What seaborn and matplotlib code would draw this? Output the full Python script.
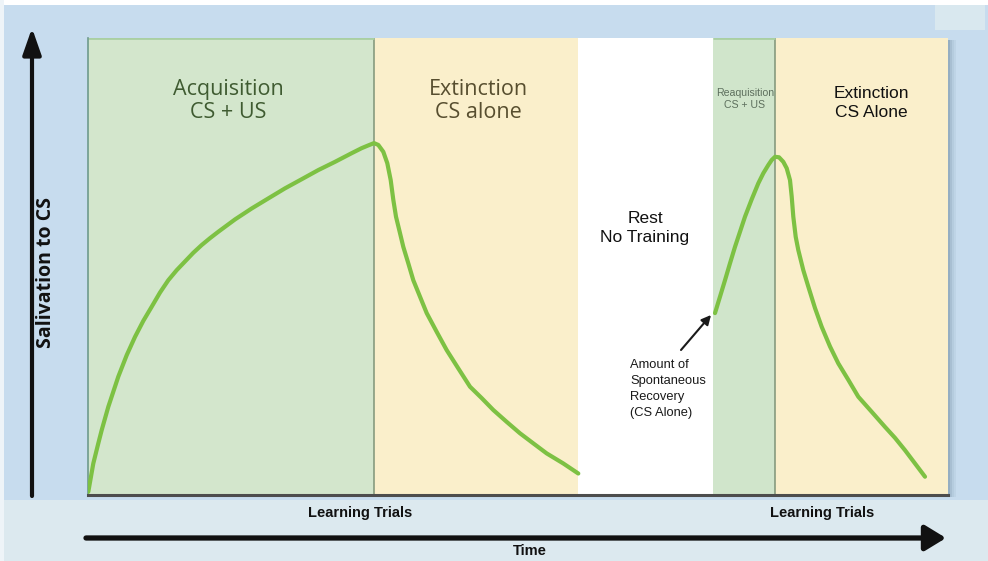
import numpy as np
import pandas as pd
import matplotlib
matplotlib.use("Agg")
import matplotlib.pyplot as plt
from matplotlib.patches import Rectangle, FancyArrowPatch
import seaborn as sns

# ---------------- data ----------------
# phase boundaries along the time axis (trial units)
phase_edges = [0, 286, 490, 625, 687, 860]
phase_names = ["Acquisition", "Extinction", "Rest", "Reacquisition", "Extinction 2"]

acq_x = [0.3, 5.3, 10.3, 13.7, 20.3, 30.3, 38.7, 47, 55.3, 63.7, 72, 80.3, 88.7, 97,
         105.3, 113.7, 122, 130.3, 147, 163.7, 180.3, 197, 213.7, 230.3, 247, 263.7,
         273.7, 280.3, 286]
acq_y = [0.7, 6.9, 11.3, 14.2, 19.3, 25.9, 30.6, 34.6, 38.1, 41.2, 44.3, 47.0, 49.2, 51.1,
         53.0, 54.7, 56.2, 57.6, 60.3, 62.7, 64.9, 67.1, 69.1, 71.1, 72.9, 74.8,
         75.9, 76.5, 77.0]

ext1_x = [286, 290.3, 295.3, 299.3, 302.7, 305.3, 308, 312, 315.3, 320.3, 325.3, 332,
          338.7, 348.7, 358.7, 370.3, 382, 393.7, 405.3, 418.7, 432, 445.3, 458.7,
          475.3, 490.3]
ext1_y = [77.0, 76.6, 75.1, 72.6, 68.9, 64.6, 60.9, 57.3, 54.3, 50.7, 47.0, 43.4,
          39.8, 35.7, 31.7, 27.7, 23.7, 21.2, 18.6, 16.0, 13.5, 11.3, 9.1,
          6.9, 4.7]

reacq_x = [627, 632, 637, 642, 647, 652, 657, 663.7, 670.3, 675.3, 680.3, 683.7, 687]
reacq_y = [39.8, 43.4, 47.0, 50.7, 54.3, 57.6, 60.9, 64.7, 68.2, 70.4, 72.2, 73.3, 74.0]

ext2_x = [687, 691, 695.3, 698.7, 702, 703.7, 705.3, 707.7, 710.3, 715.3, 720.3, 727,
          733.7, 742, 750.3, 760.3, 770.3, 783.7, 797, 807, 817, 827, 837]
ext2_y = [74.0, 73.9, 72.9, 71.5, 68.9, 65.3, 60.9, 56.5, 53.6, 49.2, 45.6, 40.9,
          36.8, 32.5, 28.8, 25.2, 21.5, 18.2, 14.9, 12.5, 9.8, 6.9, 4.0]

# ---------------- figure ----------------
W, H = 988, 561
fig = plt.figure(figsize=(W / 100, H / 100), dpi=100)
fig.patch.set_facecolor("#c7dcee")

def fx(px):
    return px / W

def fy(py):
    return 1 - py / H

# background bands
fig.add_artist(Rectangle((0, 0), 1, fy(500), transform=fig.transFigure,
                         facecolor="#dce9ef", edgecolor="none", zorder=0))
fig.add_artist(Rectangle((0, fy(5)), 1, 5 / H, transform=fig.transFigure,
                         facecolor="white", edgecolor="none", zorder=0))
fig.add_artist(Rectangle((0, 0), 4 / W, 1, transform=fig.transFigure,
                         facecolor="#eef4f8", edgecolor="none", zorder=0))
fig.add_artist(Rectangle((fx(935), fy(30)), 50 / W, 25 / H, transform=fig.transFigure,
                         facecolor="#d9e8ef", edgecolor="none", zorder=0))
# shadow at right edge of panel
for i, a in enumerate([0.35, 0.22, 0.12, 0.06]):
    fig.add_artist(Rectangle((fx(948 + i * 2), fy(497)), 2 / W, (497 - 40) / H,
                             transform=fig.transFigure, facecolor="#3a5a70",
                             alpha=a, edgecolor="none", zorder=0))

ax = fig.add_axes([fx(88), fy(495), 860 / W, 457 / H])
ax.set_xlim(phase_edges[0], phase_edges[-1])
ax.set_ylim(0, 100)

region_colors = ["#d3e6cc", "#faefcb", "#ffffff", "#d0e5cb", "#faefcb"]
for (a, b), c in zip(zip(phase_edges[:-1], phase_edges[1:]), region_colors):
    ax.axvspan(a, b, color=c, zorder=0, lw=0)
for xb in [phase_edges[1], phase_edges[4]]:
    ax.axvline(xb, color="#7f9478", lw=1.1, zorder=1)
# top edge of green regions
for (a, b) in [(phase_edges[0], phase_edges[1]), (phase_edges[3], phase_edges[4])]:
    ax.plot([a, b], [100, 100], color="#a9cfa3", lw=2, zorder=1, solid_capstyle="butt")

df = pd.DataFrame({
    "x": acq_x + ext1_x + reacq_x + ext2_x,
    "y": acq_y + ext1_y + reacq_y + ext2_y,
    "session": ["first"] * (len(acq_x) + len(ext1_x)) + ["second"] * (len(reacq_x) + len(ext2_x)),
})
sns.lineplot(data=df, x="x", y="y", units="session", estimator=None, sort=False,
             color="#7dc143", lw=3.0, ax=ax, legend=False, zorder=3,
             solid_joinstyle="round", solid_capstyle="round")

ax.set_xticks([])
ax.set_yticks([])
ax.set_xlabel("")
ax.set_ylabel("")
for s in ["top", "right"]:
    ax.spines[s].set_visible(False)
ax.spines["bottom"].set_color("#4d4d4d")
ax.spines["bottom"].set_linewidth(2.2)
ax.spines["left"].set_color("#6f9a8c")
ax.spines["left"].set_linewidth(1.2)

# ---------------- texts ----------------
humanist = ["Open Sans", "DejaVu Sans"]
helv = ["Liberation Sans", "DejaVu Sans"]

fig.text(fx(228), fy(101), "Acquisition\nCS + US", ha="center", va="center",
         fontsize=15.5, color="#3f5b31", family=humanist, linespacing=1.08)
fig.text(fx(478), fy(101), "Extinction\nCS alone", ha="center", va="center",
         fontsize=15.5, color="#574e2f", family=humanist, linespacing=1.08)
fig.text(fx(645), fy(228), "Rest\nNo Training", ha="center", va="center",
         fontsize=12.5, color="#111111", family=helv, linespacing=1.3)
fig.text(fx(745), fy(99), "Reaquisition\nCS + US", ha="center", va="center",
         fontsize=7.6, color="#5d6f5d", family=helv, linespacing=1.25)
fig.text(fx(871), fy(103), "Extinction\nCS Alone", ha="center", va="center",
         fontsize=12.5, color="#111111", family=helv, linespacing=1.3)
fig.text(fx(630), fy(389), "Amount of\nSpontaneous\nRecovery\n(CS Alone)", ha="left",
         va="center", fontsize=9.3, color="#1a1a1a", family=helv, linespacing=1.45)

fig.text(fx(360), fy(513), "Learning Trials", ha="center", va="center",
         fontsize=10.5, fontweight="bold", color="#111111", family=helv)
fig.text(fx(822), fy(513), "Learning Trials", ha="center", va="center",
         fontsize=10.5, fontweight="bold", color="#111111", family=helv)
fig.text(fx(530), fy(551), "Time", ha="center", va="center",
         fontsize=10.5, fontweight="bold", color="#111111", family=helv)
fig.text(fx(46), fy(272), "Salivation to CS", ha="center", va="center",
         rotation=90, fontsize=14, fontweight="bold", color="#111111", family=humanist)

# arrows
fig.add_artist(FancyArrowPatch((fx(681), fy(350)), (fx(711), fy(315)),
                               transform=fig.transFigure, arrowstyle="-|>",
                               mutation_scale=14, lw=1.5, color="#1a1a1a",
                               shrinkA=0, shrinkB=0))
fig.add_artist(FancyArrowPatch((fx(86), fy(538)), (fx(946), fy(538)),
                               transform=fig.transFigure,
                               arrowstyle="-|>,head_length=0.9,head_width=0.55",
                               mutation_scale=14, lw=3.8, color="#111111",
                               shrinkA=0, shrinkB=0))
fig.add_artist(FancyArrowPatch((fx(32), fy(496)), (fx(32), fy(28)),
                               transform=fig.transFigure,
                               arrowstyle="-|>,head_length=1.0,head_width=0.35",
                               mutation_scale=16, lw=3.0, color="#111111",
                               shrinkA=0, shrinkB=0))

fig.savefig("out.png", dpi=100, facecolor=fig.get_facecolor())
